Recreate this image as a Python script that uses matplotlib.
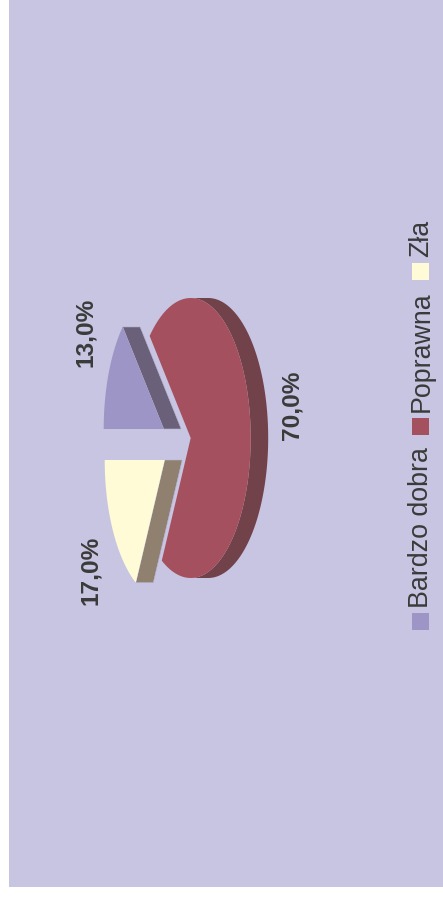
import numpy as np
from matplotlib import pyplot as plt
from matplotlib.patches import Polygon, Rectangle

categories = ["Bardzo dobra", "Poprawna", "Zła"]
values = [13.0, 70.0, 17.0]
face_colors = ["#9c95c6", "#a5505e", "#fffbd6"]
side_colors = ["#6b6079", "#72424a", "#908070"]

# layout, in pixels of the 443x898 picture
center = (190, 438)
radius_x, radius_y = 60, 140
depth = 17.5
offsets = [(-26.3, -9), (0.7, 0), (-25.3, 22)]
label_pos = [(86, 332), (292, 405.5), (91, 570)]
legend_y = [621, 426, 271]
legend_text_y = [528, 352, 238]

fig = plt.figure(figsize=(4.43, 8.98), dpi=100, facecolor="white")
ax = fig.add_axes([0, 0, 1, 1])
ax.set_xlim(0, 443)
ax.set_ylim(898, 0)
ax.axis("off")

ax.add_patch(Rectangle((9, 0), 434, 887, facecolor="#c8c5e2", edgecolor="none", zorder=0))


def arc_points(start, stop, cx, cy):
    t = np.radians(np.linspace(start, stop, 120))
    return np.column_stack([cx + radius_x * np.cos(t), cy + radius_y * np.sin(t)])


start = 180.0
for i in range(len(values)):
    stop = start + values[i] * 3.6
    cx = center[0] + offsets[i][0]
    cy = center[1] + offsets[i][1]
    arc = arc_points(start, stop, cx, cy)
    apex = np.array([[cx, cy]])

    if values[i] > 50:
        # big slice: only the outer rim shows on the far side
        rim = arc_points(270, 450, cx, cy)
        side = np.vstack([rim, (rim + [depth, 0])[::-1]])
        ax.add_patch(Polygon(side, facecolor=side_colors[i], edgecolor="none", zorder=2))
    else:
        # small slices show the cut side that faces the big slice
        edge = arc[-1] if offsets[i][1] < 0 else arc[0]
        side = np.array([apex[0], apex[0] + [depth, 0], edge + [depth, 0], edge])
        ax.add_patch(Polygon(side, facecolor=side_colors[i], edgecolor="#b9b6d4", linewidth=0.4, zorder=2))

    ax.add_patch(Polygon(np.vstack([apex, arc]), facecolor=face_colors[i], edgecolor="none", zorder=3))
    start = stop

for i in range(len(values)):
    text = ("%.1f%%" % values[i]).replace(".", ",")
    ax.text(label_pos[i][0], label_pos[i][1], text, rotation=90, ha="center", va="center",
            family="Liberation Sans", fontweight="bold", fontsize=17.6, color="#3a3a3a", zorder=4)

    ax.add_patch(Rectangle((412, legend_y[i] - 8.5), 17, 17, facecolor=face_colors[i], edgecolor="none", zorder=4))
    ax.text(421.5, legend_text_y[i], categories[i], rotation=90, ha="center", va="center",
            family="Liberation Sans", fontsize=19.3, color="#3a3a3a", zorder=4)

fig.savefig("out.png", dpi=100)
